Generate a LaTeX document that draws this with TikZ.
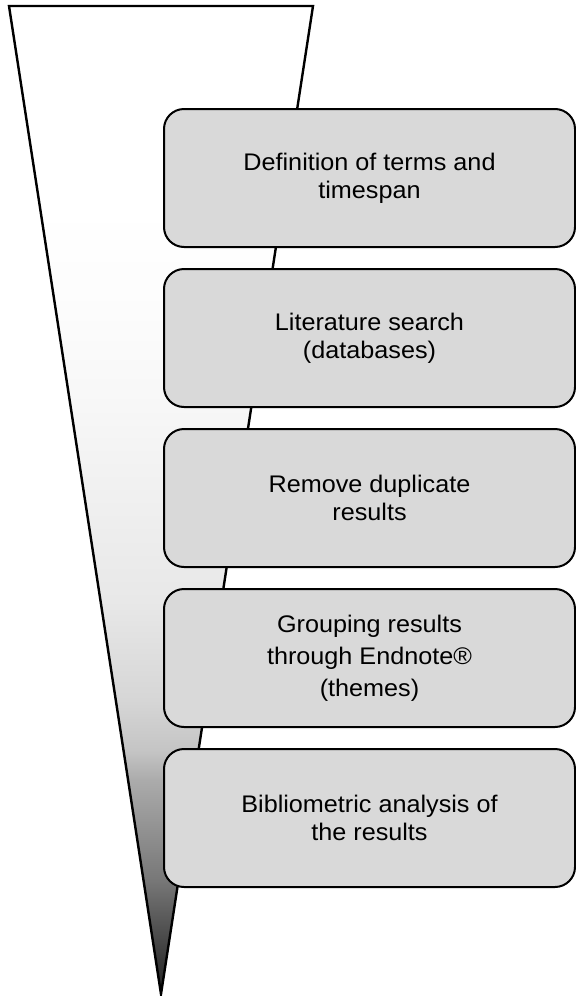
\documentclass[tikz,border=0pt]{standalone}
\usepackage{fontspec}
\setmainfont{Liberation Sans}[FakeStretch=1.05]
\usetikzlibrary{positioning}
\definecolor{boxgray}{RGB}{217,217,217}
\pgfdeclareverticalshading{funnelshade}{100bp}{color(0bp)=(black!85); color(25bp)=(black!85); color(26.7bp)=(black!78); color(30.8bp)=(black!53); color(35.8bp)=(black!33); color(37.3bp)=(black!23); color(39.9bp)=(black!16); color(44.9bp)=(black!9); color(50bp)=(black!6); color(55bp)=(black!3); color(60bp)=(black!1); color(65bp)=(white); color(100bp)=(white)}

\begin{document}
\begin{tikzpicture}[x=0.5pt,y=-0.5pt,
  stage/.style={draw,line width=1pt,rounded corners=10pt,fill=boxgray,minimum width=205.5pt,minimum height=69pt,align=center,font=\fontsize{12}{14}\selectfont}]
  \useasboundingbox (0,0) rectangle (576,996);
  % funnel behind the steps
  \coordinate (fl) at (9,6);
  \coordinate (fr) at (313,6);
  \coordinate (tip) at (161,994);
  \shadedraw[shading=funnelshade,line width=1.2pt,line join=miter] (fl) -- (fr) -- (tip) -- cycle;
  % steps
  \node[stage,anchor=north west] (terms) at (163,108) {Definition of terms and\\timespan};
  \node[stage,below=10pt of terms] (search) {Literature search\\(databases)};
  \node[stage,below=10pt of search] (dupes) {Remove duplicate\\results};
  \node[stage,below=10pt of dupes,font=\fontsize{12}{16}\selectfont] (group) {Grouping results\\through Endnote®\\(themes)};
  \node[stage,below=10pt of group] (biblio) {Bibliometric analysis of\\the results};
\end{tikzpicture}
\end{document}
